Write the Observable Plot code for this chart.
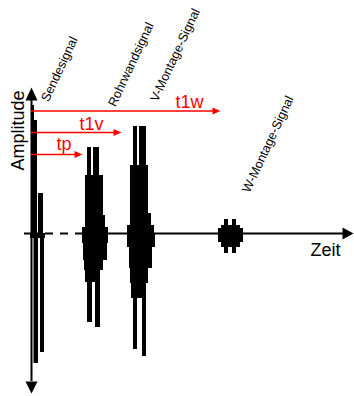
<!DOCTYPE html>
<html><head><meta charset="utf-8">
<script src="https://cdn.jsdelivr.net/npm/d3@7"></script>
<script src="https://cdn.jsdelivr.net/npm/@observablehq/plot@0.6"></script>
<style>html,body{margin:0;padding:0;background:#fff;overflow:hidden}</style>
</head><body><div id="chart"></div>
<script>
// Envelope segments of each burst: [time start, time end, peak amplitude]
const sendeUpper = [[0.5, 3, 128], [3, 6, 113], [7, 12, 40]];
const sendeLower = [[-1, 14, -5], [2.5, 7, -130], [9, 13, -119]];
const rohrUpper = [[51, 77, 6], [54, 74, 18], [54, 72, 58], [56, 60, 86], [62, 68, 86]];
const rohrLower = [[51, 77, -10], [52, 76, -27], [53, 72, -37], [54, 69, -49], [56, 61, -89], [64, 69, -94]];
const vUpper = [[96, 123, 8], [99, 120, 20], [99, 117, 68], [102, 106, 107], [108, 115, 107]];
const vLower = [[96, 124, -14], [98, 121, -35], [99, 117, -50], [100, 115, -65], [102, 106, -116], [111, 115, -123]];
const wUpper = [[187, 212, 5], [190, 209, 8], [193, 197, 14], [201, 205, 14]];
const wLower = [[187, 212, -9], [190, 209, -14], [193, 197, -20], [201, 205, -20]];

// Signal labels
const signalNames = ["Sendesignal", "Rohrwandsignal", "V-Montage-Signal", "W-Montage-Signal"];
const signalLabelT = [17, 84, 126, 218];
const signalLabelA = [131, 126, 131, 40];

// Time-of-flight arrows
const tofNames = ["tp", "t1v", "t1w"];
const tofEnd = [51, 90, 189];
const tofLevel = [79, 101, 122.5];
const tofLabelT = [25, 48, 144];
const tofLabelA = [84, 104, 126];

// Axes
const ampRange = [-148, 133];
const timeSolid = [[-7, 12], [51, 312]];
const timeDashed = [[14, 51]];

const segs = [sendeUpper, sendeLower, rohrUpper, rohrLower, vUpper, vLower, wUpper, wLower]
  .flatMap(arr => arr.map(([t1, t2, a]) => ({t1, t2, a1: 0, a2: a})));
const labels = signalNames.map((n, i) => ({n, t: signalLabelT[i], a: signalLabelA[i]}));
const tofs = tofNames.map((n, i) => ({n, end: tofEnd[i], lvl: tofLevel[i], lt: tofLabelT[i], la: tofLabelA[i]}));

const headUp = {draw(c) { c.moveTo(0, 0); c.lineTo(-6, 13); c.lineTo(6, 13); c.closePath(); }};
const headDown = {draw(c) { c.moveTo(0, 0); c.lineTo(-6, -12); c.lineTo(6, -12); c.closePath(); }};
const headRight = {draw(c) { c.moveTo(0, 0); c.lineTo(-11, -6); c.lineTo(-11, 6); c.closePath(); }};
const redHead = {draw(c) { c.moveTo(0, 0); c.lineTo(-8, -3.5); c.lineTo(-8, 3.5); c.closePath(); }};

const font = "'Liberation Sans', Arial, sans-serif";
const plot = Plot.plot({
  width: 354, height: 396,
  margin: 0,
  x: {domain: [-31, 323], axis: null},
  y: {domain: [-163, 233], axis: null},
  style: {fontFamily: font, background: "#fff"},
  marks: [
    Plot.rect(segs, {x1: "t1", x2: "t2", y1: "a1", y2: "a2", fill: "black"}),
    Plot.ruleX([0], {y1: ampRange[0], y2: ampRange[1], stroke: "black", strokeWidth: 2}),
    Plot.ruleY(timeSolid, {y: () => 0, x1: d => d[0], x2: d => d[1], stroke: "black", strokeWidth: 2}),
    Plot.ruleY(timeDashed, {y: () => 0, x1: d => d[0], x2: d => d[1], stroke: "black", strokeWidth: 2, strokeDasharray: "8,7"}),
    Plot.dot([0], {x: 0, y: 146, symbol: headUp, r: 5, fill: "black", stroke: "none"}),
    Plot.dot([0], {x: 0, y: -160, symbol: headDown, r: 5, fill: "black", stroke: "none"}),
    Plot.dot([0], {x: 322, y: 0, symbol: headRight, r: 5, fill: "black", stroke: "none"}),
    Plot.ruleY(tofs, {y: "lvl", x1: () => 0, x2: d => d.end - 7, stroke: "red", strokeWidth: 1.3}),
    Plot.dot(tofs, {x: "end", y: "lvl", symbol: redHead, r: 5, fill: "red", stroke: "none"}),
    Plot.text(tofs, {x: "lt", y: "la", text: "n", fill: "red", fontSize: 18, textAnchor: "start", lineAnchor: "bottom"}),
    Plot.text(labels, {x: "t", y: "a", text: "n", rotate: -65, fontSize: 12.7, textAnchor: "start", lineAnchor: "bottom", fill: "black"}),
    Plot.text(["Amplitude"], {x: -8, y: 103, text: d => d, rotate: -90, fontSize: 18, textAnchor: "middle", lineAnchor: "bottom", fill: "black"}),
    Plot.text(["Zeit"], {x: 279, y: -22, text: d => d, fontSize: 18, textAnchor: "start", lineAnchor: "bottom", fill: "black"})
  ]
});
document.getElementById("chart").appendChild(plot);
</script></body></html>
